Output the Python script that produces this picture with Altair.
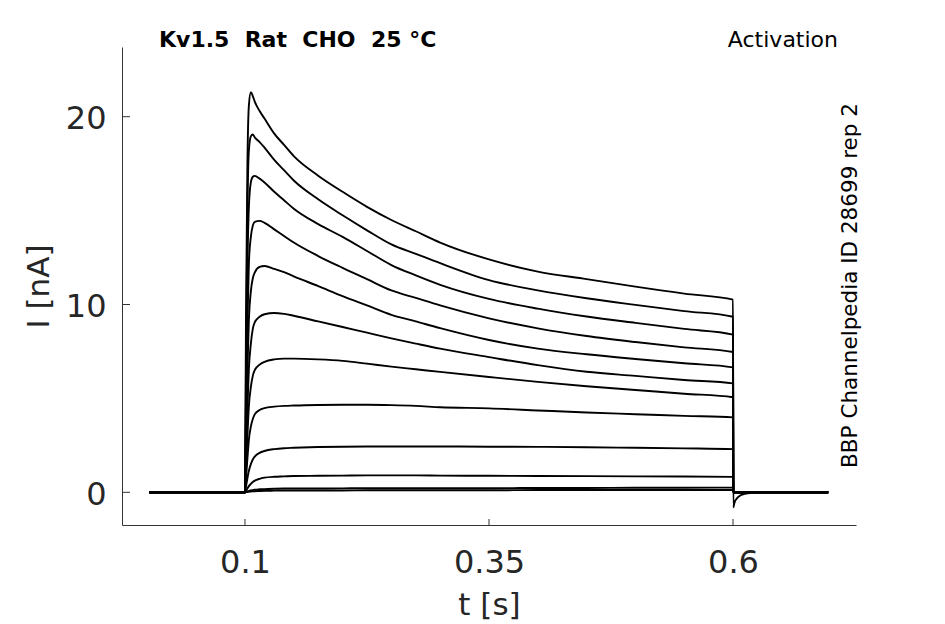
import altair as alt
import pandas as pd

# Sample times (s) shared by every trace during the voltage step
GRID_T = [0.1, 0.101, 0.1025, 0.104, 0.106, 0.108, 0.11, 0.115, 0.12, 0.13, 0.14,
          0.15, 0.175, 0.2, 0.225, 0.25, 0.275, 0.3, 0.35, 0.4, 0.45, 0.5, 0.55, 0.6]

# Currents (nA), one list per voltage step
I_01 = [0, 9.0, 17.5, 20.6, 21.3, 21.1, 20.8, 20.3, 19.9, 19.1, 18.5, 17.9, 16.86, 16.0, 15.2, 14.5, 13.9, 13.3, 12.4, 11.75, 11.35, 10.95, 10.58, 10.26]
I_02 = [0, 6.5, 15.0, 18.2, 18.95, 19.05, 18.9, 18.65, 18.35, 17.7, 17.15, 16.6, 15.6, 14.75, 13.95, 13.2, 12.7, 12.2, 11.3, 10.75, 10.33, 9.98, 9.65, 9.35]
I_03 = [0, 4.8, 12.0, 15.2, 16.5, 16.8, 16.85, 16.7, 16.5, 16.0, 15.55, 15.1, 14.28, 13.6, 12.85, 12.1, 11.55, 11.05, 10.3, 9.78, 9.36, 9.02, 8.7, 8.4]
I_04 = [0, 3.6, 9.0, 12.2, 13.6, 14.2, 14.4, 14.45, 14.35, 14.0, 13.65, 13.3, 12.58, 11.95, 11.35, 10.75, 10.35, 9.95, 9.26, 8.73, 8.32, 8.0, 7.72, 7.47]
I_05 = [0, 2.6, 6.5, 9.2, 10.7, 11.4, 11.7, 12.0, 12.05, 11.9, 11.72, 11.5, 10.98, 10.45, 9.95, 9.45, 9.1, 8.74, 8.11, 7.65, 7.35, 7.1, 6.87, 6.65]
I_06 = [0, 1.8, 4.5, 6.6, 7.9, 8.7, 9.05, 9.35, 9.48, 9.55, 9.5, 9.4, 9.1, 8.8, 8.5, 8.2, 7.92, 7.65, 7.2, 6.77, 6.42, 6.2, 5.98, 5.8]
I_07 = [0, 1.2, 3.0, 4.6, 5.6, 6.2, 6.5, 6.8, 6.95, 7.08, 7.12, 7.12, 7.08, 7.0, 6.85, 6.69, 6.55, 6.41, 6.14, 5.88, 5.65, 5.45, 5.25, 5.06]
I_08 = [0, 0.7, 1.8, 2.8, 3.5, 3.9, 4.15, 4.38, 4.48, 4.56, 4.6, 4.62, 4.65, 4.66, 4.66, 4.64, 4.6, 4.53, 4.47, 4.36, 4.25, 4.16, 4.07, 3.99]
I_09 = [0, 0.3, 0.75, 1.15, 1.5, 1.75, 1.9, 2.1, 2.2, 2.3, 2.35, 2.37, 2.41, 2.43, 2.44, 2.44, 2.44, 2.44, 2.43, 2.42, 2.4, 2.37, 2.34, 2.3]
I_10 = [0, 0.08, 0.2, 0.33, 0.45, 0.55, 0.62, 0.72, 0.78, 0.83, 0.85, 0.87, 0.88, 0.89, 0.9, 0.9, 0.9, 0.89, 0.88, 0.87, 0.86, 0.85, 0.84, 0.82]
I_11 = [0, 0.02, 0.05, 0.08, 0.1, 0.12, 0.14, 0.16, 0.17, 0.19, 0.2, 0.2, 0.2, 0.21, 0.22, 0.22, 0.22, 0.22, 0.22, 0.23, 0.23, 0.24, 0.24, 0.25]
I_12 = [0, 0.01, 0.02, 0.03, 0.04, 0.05, 0.06, 0.07, 0.08, 0.09, 0.1, 0.1, 0.1, 0.1, 0.11, 0.11, 0.11, 0.11, 0.11, 0.12, 0.12, 0.12, 0.12, 0.12]
TRACES = [I_01, I_02, I_03, I_04, I_05, I_06, I_07, I_08, I_09, I_10, I_11, I_12]

# Holding level before / after the step
T_START = 0.002
T_OFF = 0.6003
T_END = 0.6975
# Tail current of the largest trace after the step
TAIL_T = [0.6003, 0.6015, 0.604, 0.607, 0.612, 0.62, 0.63]
TAIL_I = [-0.8, -0.55, -0.32, -0.18, -0.08, -0.02, 0.0]

X_TICKS = [0.1, 0.35, 0.6]
Y_TICKS = [0, 10, 20]
X_DOMAIN = [-0.026, 0.726]
Y_DOMAIN = [-1.74, 23.71]

TITLE = "Kv1.5\u00a0\u00a0Rat\u00a0\u00a0CHO\u00a0\u00a025 °C"
PROTOCOL = "Activation"
SOURCE = "BBP Channelpedia ID 28699 rep 2"

rows = []
for k, vals in enumerate(TRACES):
    pts = [(T_START, 0.0)] + list(zip(GRID_T, vals))
    if k == 0:
        pts += list(zip(TAIL_T, TAIL_I))
    else:
        pts += [(T_OFF, 0.0)]
    pts += [(T_END, 0.0)]
    for i, (t, v) in enumerate(pts):
        rows.append({"trace": k, "i": i, "t": t, "I": v})
df = pd.DataFrame(rows)

FONT = "DejaVu Sans"
TXT = "#262626"
AX = "#333333"
W, H = 734, 478

xs = alt.Scale(domain=X_DOMAIN, nice=False, zero=False)
ys = alt.Scale(domain=Y_DOMAIN, nice=False, zero=False)

x_axis = alt.Axis(
    values=X_TICKS, format=".2~f", title="t [s]", ticks=False, tickSize=0,
    grid=False, domain=True, domainColor=AX, domainWidth=1,
    labelFont=FONT, labelFontSize=32, labelColor=TXT, labelPadding=22,
    labelFlush=False, labelOverlap=False,
    titleFont=FONT, titleFontSize=31, titleFontWeight="normal", titleColor=TXT,
    titleX=W / 2, titleY=89, titleBaseline="alphabetic", titleAlign="center")
y_axis = alt.Axis(
    values=Y_TICKS, format="d", title="I [nA]", ticks=False, tickSize=0,
    grid=False, domain=True, domainColor=AX, domainWidth=1,
    labelFont=FONT, labelFontSize=32, labelColor=TXT, labelPadding=16,
    labelOffset=2, labelFlush=False, labelOverlap=False,
    titleFont=FONT, titleFontSize=31, titleFontWeight="normal", titleColor=TXT,
    titleAngle=270, titleX=-74, titleY=H / 2, titleBaseline="alphabetic",
    titleAlign="center")

lines = alt.Chart(df).mark_line(
    color="black", strokeWidth=1.9, clip=True, interpolate="monotone"
).encode(
    x=alt.X("t:Q", scale=xs, axis=x_axis),
    y=alt.Y("I:Q", scale=ys, axis=y_axis),
    detail="trace:N",
    order="i:Q",
)

yticks = alt.Chart(pd.DataFrame({"I": Y_TICKS})).mark_rule(color=AX, strokeWidth=1).encode(
    y=alt.Y("I:Q", scale=ys, axis=y_axis), x=alt.value(0), x2=alt.value(8))
xticks = alt.Chart(pd.DataFrame({"t": X_TICKS})).mark_rule(color=AX, strokeWidth=1).encode(
    x=alt.X("t:Q", scale=xs, axis=x_axis), y=alt.value(H), y2=alt.value(H - 6))

title = alt.Chart(pd.DataFrame({"s": [TITLE]})).mark_text(
    font=FONT, fontSize=22, fontWeight="bold", color="black", align="left", baseline="alphabetic"
).encode(text="s:N", x=alt.value(37), y=alt.value(-0.5))

protocol = alt.Chart(pd.DataFrame({"s": [PROTOCOL]})).mark_text(
    font=FONT, fontSize=22, color="black", align="right", baseline="alphabetic"
).encode(text="s:N", x=alt.value(716), y=alt.value(-0.5))

source = alt.Chart(pd.DataFrame({"s": [SOURCE]})).mark_text(
    font=FONT, fontSize=21.5, color="black", align="center", baseline="alphabetic", angle=270
).encode(text="s:N", x=alt.value(735), y=alt.value(238.5))

chart = alt.layer(lines, yticks, xticks, title, protocol, source).properties(
    width=W, height=H,
    background="white",
    autosize=alt.AutoSizeParams(type="none"),
    padding={"left": 114, "top": 39, "right": 24, "bottom": 97},
).configure_view(stroke=None)

chart.save("out.html", embed_options={"renderer": "svg", "actions": False})
